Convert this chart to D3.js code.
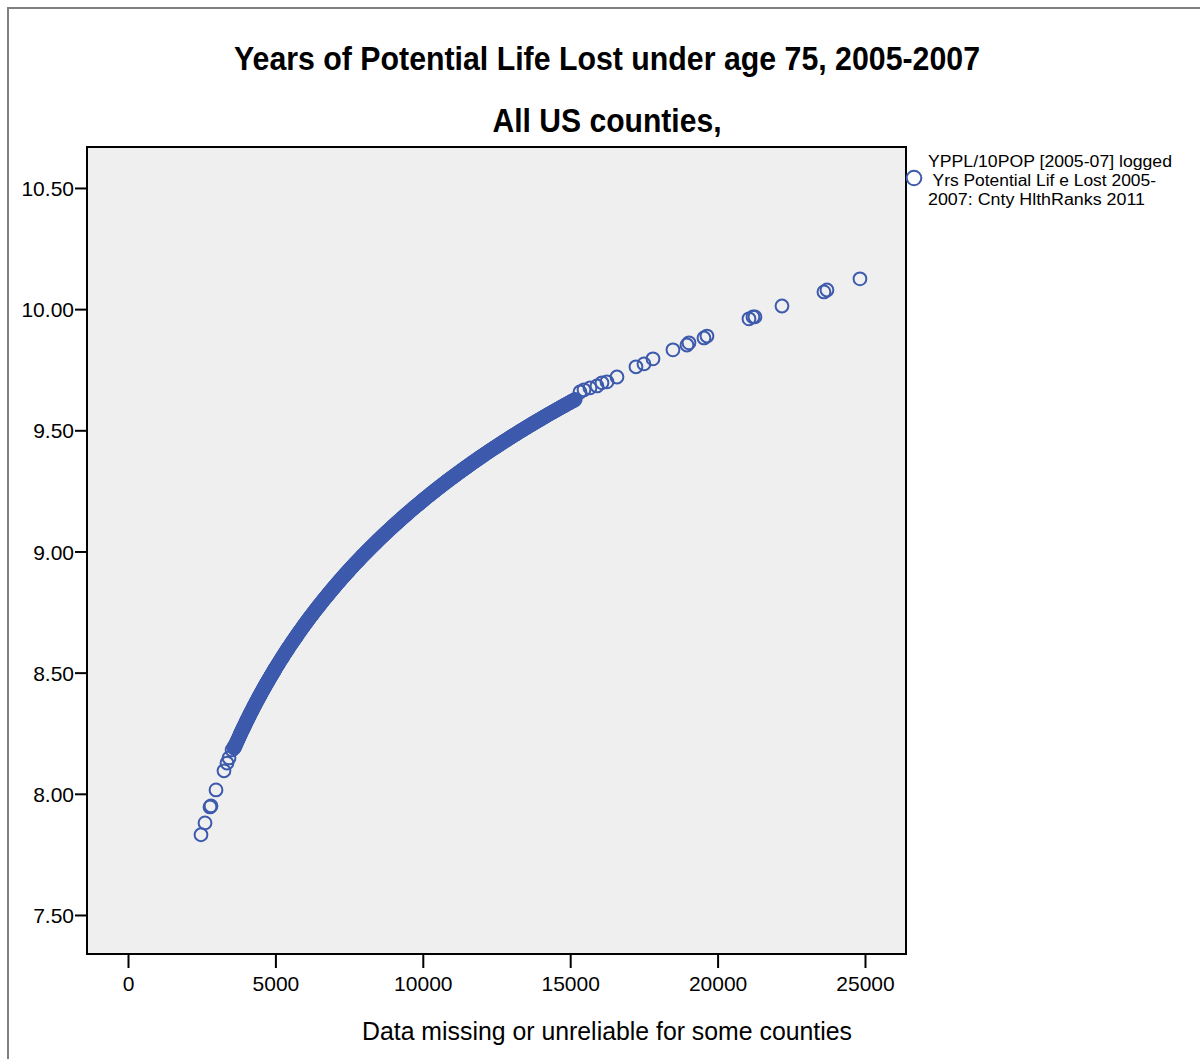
<!DOCTYPE html>
<html>
<head>
<meta charset="utf-8">
<script src="https://cdn.jsdelivr.net/npm/d3@7"></script>
<style>
  body { margin: 0; background: #fff; }
  text { font-family: "Liberation Sans", Arial, sans-serif; fill: #000; }
</style>
</head>
<body>
<div id="grafica"></div>
<script>
// Datos
const titulo1 = "Years of Potential Life Lost under age 75, 2005-2007"
const titulo2 = "All US counties,"
const ejeX = "Data missing or unreliable for some counties"
const leyenda = ["YPPL/10POP [2005-07] logged", " Yrs Potential Lif e Lost 2005-", "2007: Cnty HlthRanks 2011"]

const xTicks = [0, 5000, 10000, 15000, 20000, 25000]
const yTicks = [7.5, 8.0, 8.5, 9.0, 9.5, 10.0, 10.5]

// condados sueltos, extremo bajo
const puntosBajos = [
  [2476, 7.831], [2612, 7.880], [2781, 7.946], [2815, 7.950], [2985, 8.016],
  [3256, 8.095], [3358, 8.127], [3426, 8.148], [3528, 8.181], [3596, 8.194]
]

// banda densa
const puntosBanda = [
  [3600,8.1887],[3630,8.1970],[3660,8.2052],[3690,8.2134],[3720,8.2215],[3750,8.2295],[3780,8.2375],[3810,8.2454],
  [3840,8.2532],[3870,8.2610],[3900,8.2687],[3930,8.2764],[3960,8.2840],[3990,8.2915],[4020,8.2990],[4050,8.3064],
  [4080,8.3138],[4110,8.3211],[4140,8.3284],[4170,8.3356],[4200,8.3428],[4230,8.3499],[4260,8.3570],[4290,8.3640],
  [4320,8.3710],[4350,8.3779],[4380,8.3848],[4410,8.3916],[4440,8.3984],[4470,8.4051],[4500,8.4118],[4530,8.4184],
  [4560,8.4250],[4590,8.4316],[4620,8.4381],[4650,8.4446],[4680,8.4510],[4710,8.4574],[4740,8.4637],[4770,8.4700],
  [4800,8.4763],[4830,8.4825],[4860,8.4887],[4890,8.4949],[4920,8.5010],[4950,8.5071],[4980,8.5131],[5000,8.5172],
  [5050,8.5271],[5100,8.5370],[5150,8.5467],[5200,8.5564],[5250,8.5660],[5300,8.5755],[5350,8.5849],[5400,8.5942],
  [5450,8.6034],[5500,8.6125],[5550,8.6215],[5600,8.6305],[5650,8.6394],[5700,8.6482],[5750,8.6569],[5800,8.6656],
  [5850,8.6742],[5900,8.6827],[5950,8.6911],[6000,8.6995],[6050,8.7078],[6100,8.7160],[6150,8.7242],[6200,8.7323],
  [6250,8.7403],[6300,8.7483],[6350,8.7562],[6400,8.7640],[6450,8.7718],[6500,8.7795],[6550,8.7872],[6600,8.7948],
  [6650,8.8023],[6700,8.8098],[6750,8.8172],[6800,8.8246],[6850,8.8319],[6900,8.8392],[6950,8.8464],[7000,8.8536],
  [7050,8.8608],[7100,8.8678],[7150,8.8749],[7200,8.8818],[7250,8.8888],[7300,8.8956],[7350,8.9025],[7400,8.9092],
  [7450,8.9160],[7500,8.9227],[7550,8.9293],[7600,8.9359],[7650,8.9425],[7700,8.9490],[7750,8.9555],[7800,8.9619],
  [7850,8.9683],[7900,8.9746],[7950,8.9809],[8000,8.9872],[8060,8.9947],[8120,9.0021],[8180,9.0095],[8240,9.0168],
  [8300,9.0240],[8360,9.0312],[8420,9.0384],[8480,9.0455],[8540,9.0526],[8600,9.0596],[8660,9.0665],[8720,9.0734],
  [8780,9.0803],[8840,9.0871],[8900,9.0939],[8960,9.1006],[9020,9.1073],[9080,9.1139],[9140,9.1205],[9200,9.1270],
  [9260,9.1335],[9320,9.1400],[9380,9.1464],[9440,9.1528],[9500,9.1591],[9560,9.1654],[9620,9.1717],[9680,9.1779],
  [9740,9.1841],[9800,9.1902],[9860,9.1963],[9920,9.2024],[9980,9.2084],[10040,9.2144],[10100,9.2204],[10160,9.2263],
  [10220,9.2322],[10280,9.2381],[10340,9.2439],[10400,9.2497],[10460,9.2555],[10520,9.2612],[10580,9.2669],[10640,9.2726],
  [10700,9.2782],[10760,9.2838],[10820,9.2894],[10880,9.2949],[10940,9.3004],[11000,9.3057],[11060,9.3111],[11120,9.3165],
  [11180,9.3219],[11240,9.3273],[11300,9.3326],[11360,9.3379],[11420,9.3432],[11480,9.3484],[11540,9.3536],[11600,9.3588],
  [11660,9.3640],[11720,9.3691],[11780,9.3742],[11840,9.3793],[11900,9.3844],[11960,9.3894],[12020,9.3944],[12090,9.4002],
  [12160,9.4060],[12230,9.4117],[12300,9.4174],[12370,9.4231],[12440,9.4287],[12510,9.4343],[12580,9.4399],[12650,9.4454],
  [12720,9.4509],[12790,9.4564],[12860,9.4619],[12930,9.4673],[13000,9.4727],[13070,9.4781],[13140,9.4834],[13210,9.4887],
  [13280,9.4940],[13350,9.4993],[13420,9.5045],[13490,9.5097],[13560,9.5149],[13630,9.5200],[13700,9.5251],[13770,9.5302],
  [13840,9.5353],[13910,9.5403],[13980,9.5453],[14050,9.5503],[14120,9.5553],[14190,9.5602],[14260,9.5651],[14330,9.5700],
  [14400,9.5749],[14470,9.5797],[14540,9.5846],[14610,9.5894],[14680,9.5941],[14750,9.5989],[14820,9.6036],[14890,9.6083],
  [14960,9.6130],[15030,9.6177],[15100,9.6223],[15170,9.6270]
]

// mas condados dentro de la banda
const puntosBanda2 = [
  [3615,8.1929],[3645,8.2011],[3675,8.2093],[3705,8.2175],[3735,8.2255],[3765,8.2335],[3795,8.2415],[3825,8.2493],
  [3855,8.2571],[3885,8.2649],[3915,8.2726],[3945,8.2802],[3975,8.2878],[4005,8.2953],[4035,8.3027],[4065,8.3101],
  [4095,8.3175],[4125,8.3248],[4155,8.3320],[4185,8.3392],[4215,8.3464],[4245,8.3535],[4275,8.3605],[4305,8.3675],
  [4335,8.3745],[4365,8.3814],[4395,8.3882],[4425,8.3950],[4455,8.4018],[4485,8.4085],[4515,8.4151],[4545,8.4217],
  [4575,8.4283],[4605,8.4349],[4635,8.4414],[4665,8.4478],[4695,8.4542],[4725,8.4606],[4755,8.4669],[4785,8.4732],
  [4815,8.4794],[4845,8.4856],[4875,8.4918],[4905,8.4980],[4935,8.5041],[4965,8.5101],[4990,8.5152],[5025,8.5222],
  [5075,8.5321],[5125,8.5419],[5175,8.5516],[5225,8.5612],[5275,8.5708],[5325,8.5802],[5375,8.5896],[5425,8.5988],
  [5475,8.6080],[5525,8.6170],[5575,8.6260],[5625,8.6350],[5675,8.6438],[5725,8.6526],[5775,8.6613],[5825,8.6699],
  [5875,8.6785],[5925,8.6869],[5975,8.6953],[6025,8.7037],[6075,8.7119],[6125,8.7201],[6175,8.7283],[6225,8.7363],
  [6275,8.7443],[6325,8.7523],[6375,8.7601],[6425,8.7679],[6475,8.7757],[6525,8.7834],[6575,8.7910],[6625,8.7986],
  [6675,8.8061],[6725,8.8135],[6775,8.8209],[6825,8.8283],[6875,8.8356],[6925,8.8428],[6975,8.8500],[7025,8.8572],
  [7075,8.8643],[7125,8.8714],[7175,8.8784],[7225,8.8853],[7275,8.8922],[7325,8.8991],[7375,8.9059],[7425,8.9126],
  [7475,8.9194],[7525,8.9260],[7575,8.9326],[7625,8.9392],[7675,8.9458],[7725,8.9523],[7775,8.9587],[7825,8.9651],
  [7875,8.9715],[7925,8.9778],[7975,8.9841],[8030,8.9910],[8090,8.9984],[8150,9.0058],[8210,9.0132],[8270,9.0204],
  [8330,9.0276],[8390,9.0348],[8450,9.0420],[8510,9.0491],[8570,9.0561],[8630,9.0631],[8690,9.0700],[8750,9.0769],
  [8810,9.0837],[8870,9.0905],[8930,9.0973],[8990,9.1040],[9050,9.1106],[9110,9.1172],[9170,9.1238],[9230,9.1303],
  [9290,9.1368],[9350,9.1432],[9410,9.1496],[9470,9.1560],[9530,9.1623],[9590,9.1686],[9650,9.1748],[9710,9.1810],
  [9770,9.1872],[9830,9.1933],[9890,9.1994],[9950,9.2054],[10010,9.2114],[10070,9.2174],[10130,9.2234],[10190,9.2293],
  [10250,9.2352],[10310,9.2410],[10370,9.2468],[10430,9.2526],[10490,9.2584],[10550,9.2641],[10610,9.2698],[10670,9.2754],
  [10730,9.2810],[10790,9.2866],[10850,9.2922],[10910,9.2977],[10970,9.3031],[11030,9.3084],[11090,9.3138],[11150,9.3192],
  [11210,9.3246],[11270,9.3300],[11330,9.3353],[11390,9.3406],[11450,9.3458],[11510,9.3510],[11570,9.3562],[11630,9.3614],
  [11690,9.3666],[11750,9.3717],[11810,9.3768],[11870,9.3819],[11930,9.3869],[11990,9.3919],[12055,9.3973],[12125,9.4031],
  [12195,9.4089],[12265,9.4146],[12335,9.4203],[12405,9.4259],[12475,9.4315],[12545,9.4371],[12615,9.4427],[12685,9.4482],
  [12755,9.4537],[12825,9.4592],[12895,9.4646],[12965,9.4700],[13035,9.4754],[13105,9.4808],[13175,9.4861],[13245,9.4914],
  [13315,9.4967],[13385,9.5019],[13455,9.5071],[13525,9.5123],[13595,9.5175],[13665,9.5226],[13735,9.5277],[13805,9.5328],
  [13875,9.5378],[13945,9.5428],[14015,9.5478],[14085,9.5528],[14155,9.5578],[14225,9.5627],[14295,9.5676],[14365,9.5725],
  [14435,9.5773],[14505,9.5822],[14575,9.5870],[14645,9.5918],[14715,9.5965],[14785,9.6013],[14855,9.6060],[14925,9.6107],
  [14995,9.6154],[15065,9.6200],[15135,9.6247]
]

// condados sueltos, extremo alto
const puntosAltos = [
  [15332, 9.658], [15468, 9.667], [15671, 9.675], [15908, 9.683], [16078, 9.696],
  [16248, 9.700], [16587, 9.720], [17231, 9.762], [17503, 9.774], [17808, 9.795],
  [18486, 9.832], [18961, 9.852], [19029, 9.861], [19538, 9.881], [19640, 9.889],
  [21064, 9.960], [21200, 9.968], [21268, 9.968], [22184, 10.013], [23608, 10.071],
  [23710, 10.079], [24829, 10.125]
]

const datos = puntosBajos.concat(puntosBanda, puntosBanda2, puntosAltos)

// Lienzo
const anchoTotal = 1200
const altoTotal = 1059
const marco = { left: 87, right: 906, top: 147, bottom: 954 }
const azul = "#3d5aad"

const svg = d3.select("#grafica").append("svg")
    .attr("width", anchoTotal)
    .attr("height", altoTotal)

// Borde gris exterior
svg.append("path")
    .attr("d", `M8,${altoTotal} V8 H${anchoTotal}`)
    .attr("fill", "none")
    .attr("stroke", "#808080")
    .attr("stroke-width", 2)

// Escaladores
const x = d3.scaleLinear().domain([-1391, 26391]).range([marco.left, marco.right])
const y = d3.scaleLinear().domain([7.339, 10.669]).range([marco.bottom, marco.top])

// Fondo del area de graficado
svg.append("rect")
    .attr("x", marco.left)
    .attr("y", marco.top)
    .attr("width", marco.right - marco.left)
    .attr("height", marco.bottom - marco.top)
    .attr("fill", "#efefef")

// Puntos
svg.append("g")
  .selectAll("circle")
  .data(datos)
  .join("circle")
    .attr("cx", d => x(d[0]))
    .attr("cy", d => y(d[1]))
    .attr("r", 6.4)
    .attr("fill", "none")
    .attr("stroke", azul)
    .attr("stroke-width", 2)

// Marco
svg.append("rect")
    .attr("x", marco.left)
    .attr("y", marco.top)
    .attr("width", marco.right - marco.left)
    .attr("height", marco.bottom - marco.top)
    .attr("fill", "none")
    .attr("stroke", "#000")
    .attr("stroke-width", 2)

// Ejes
const ejeY = svg.append("g")
    .attr("transform", `translate(${marco.left},0)`)
    .call(d3.axisLeft(y).tickValues(yTicks).tickFormat(d3.format(".2f")).tickSize(12).tickPadding(1))
ejeY.select(".domain").remove()
ejeY.selectAll(".tick line").attr("stroke", "#000").attr("stroke-width", 2)
ejeY.selectAll(".tick text")
    .attr("font-family", "'Liberation Sans', Arial, sans-serif")
    .attr("font-size", 21)
    .attr("fill", "#000")
    .attr("dy", "0.36em")

const ejeXg = svg.append("g")
    .attr("transform", `translate(0,${marco.bottom})`)
    .call(d3.axisBottom(x).tickValues(xTicks).tickFormat(d3.format("d")).tickSize(14).tickPadding(8))
ejeXg.select(".domain").remove()
ejeXg.selectAll(".tick line").attr("stroke", "#000").attr("stroke-width", 2)
ejeXg.selectAll(".tick text")
    .attr("font-family", "'Liberation Sans', Arial, sans-serif")
    .attr("font-size", 21)
    .attr("fill", "#000")

// Titulos
svg.append("text")
    .attr("x", 607)
    .attr("y", 70)
    .attr("text-anchor", "middle")
    .attr("font-size", 33)
    .attr("font-weight", "bold")
    .attr("textLength", 746)
    .attr("lengthAdjust", "spacingAndGlyphs")
    .text(titulo1)

svg.append("text")
    .attr("x", 607)
    .attr("y", 132)
    .attr("text-anchor", "middle")
    .attr("font-size", 33)
    .attr("font-weight", "bold")
    .attr("textLength", 229)
    .attr("lengthAdjust", "spacingAndGlyphs")
    .text(titulo2)

// Etiqueta eje X
svg.append("text")
    .attr("x", 607)
    .attr("y", 1040)
    .attr("text-anchor", "middle")
    .attr("font-size", 25)
    .attr("textLength", 490)
    .attr("lengthAdjust", "spacingAndGlyphs")
    .text(ejeX)

// Leyenda
svg.append("circle")
    .attr("cx", 914)
    .attr("cy", 178)
    .attr("r", 7.3)
    .attr("fill", "none")
    .attr("stroke", azul)
    .attr("stroke-width", 2)

const anchosLeyenda = [244, 228, 217]
leyenda.forEach((linea, i) => {
  svg.append("text")
      .attr("x", 928)
      .attr("y", 167 + i * 19)
      .attr("font-size", 16)
      .attr("xml:space", "preserve")
      .style("white-space", "pre")
      .attr("textLength", anchosLeyenda[i])
      .attr("lengthAdjust", "spacingAndGlyphs")
      .text(linea)
})
</script>
</body>
</html>
